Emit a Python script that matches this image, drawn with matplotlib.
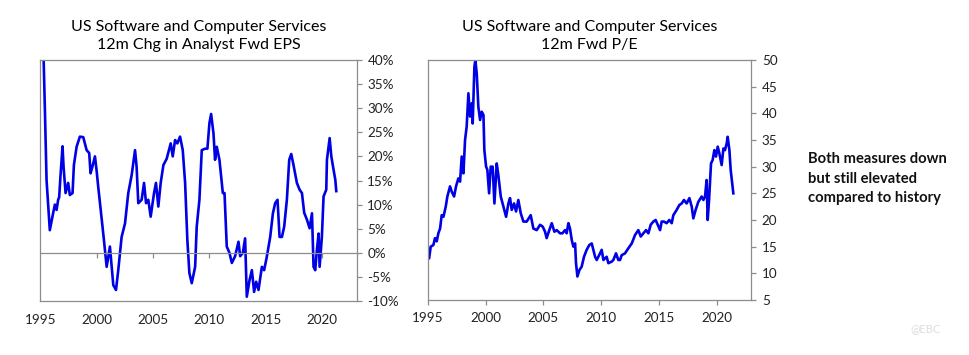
import numpy as np
import matplotlib.pyplot as plt

plt.rcParams['font.family'] = ['Lato', 'DejaVu Sans']

# 12m change in analyst forward EPS (%)
eps_year = [1995.23, 1995.38, 1995.53, 1995.82, 1996.12, 1996.27, 1996.42, 1996.56, 1996.65, 1996.77,
            1996.89, 1996.95, 1997.04, 1997.22, 1997.45, 1997.60, 1997.84, 1997.96, 1998.20, 1998.49,
            1998.79, 1999.09, 1999.32, 1999.44, 1999.62, 1999.83, 1999.98, 2000.12, 2000.42, 2000.63,
            2000.87, 2001.16, 2001.46, 2001.70, 2001.90, 2002.20, 2002.50, 2002.79, 2003.09, 2003.39,
            2003.53, 2003.68, 2003.98, 2004.19, 2004.37, 2004.57, 2004.78, 2005.08, 2005.25, 2005.46,
            2005.67, 2005.91, 2006.20, 2006.56, 2006.74, 2006.95, 2007.15, 2007.39, 2007.63, 2007.84,
            2008.04, 2008.22, 2008.43, 2008.73, 2008.87, 2009.11, 2009.32, 2009.61, 2009.82, 2010.00,
            2010.15, 2010.36, 2010.50, 2010.65, 2010.89, 2011.19, 2011.34, 2011.54, 2011.78, 2011.99,
            2012.28, 2012.58, 2012.73, 2012.97, 2013.17, 2013.32, 2013.56, 2013.77, 2013.97, 2014.15,
            2014.36, 2014.66, 2014.86, 2015.10, 2015.40, 2015.64, 2015.84, 2016.05, 2016.23, 2016.44,
            2016.64, 2016.88, 2017.09, 2017.27, 2017.47, 2017.77, 2018.01, 2018.22, 2018.42, 2018.66,
            2018.90, 2019.11, 2019.25, 2019.40, 2019.55, 2019.70, 2019.79, 2019.99, 2020.14, 2020.38,
            2020.44, 2020.68, 2020.83, 2021.03, 2021.18, 2021.27]
eps_chg = [44, 30, 15.1, 4.7, 8.3, 10, 8.9, 11, 11.5, 16,
           20, 22.1, 17.9, 12.4, 14.5, 12, 12.4, 18.2, 22, 24.1,
           24, 21.3, 20.7, 16.5, 18, 20, 17, 13.7, 7.2, 2.6,
           -2.9, 1.3, -6.7, -7.7, -3.6, 3.3, 6.1, 12.4, 16.1, 21.3,
           17.9, 10.3, 11, 14.5, 10.3, 11, 7.5, 12.4, 14.5, 9.6,
           14.5, 18.2, 19.5, 22.7, 20, 23.4, 22.7, 24.1, 21.3, 14.5,
           2.6, -4.2, -6.3, -2.9, 5.4, 11, 21.3, 21.6, 21.6, 26.9,
           28.8, 24.8, 19.3, 22, 19.3, 12.4, 12.4, 1.3, 0, -2.1,
           -0.7, 2.3, -0.7, 0, 3.0, -9.1, -5.7, -3.6, -8.1, -6,
           -7.7, -2.9, -3.6, -0.8, 3.3, 8.2, 10.3, 11, 3.3, 3.3,
           5.4, 11, 19.3, 20.5, 18.2, 14.5, 13.1, 12.4, 8.3, 6.9,
           5.1, 8.2, -2.9, -3.6, 0.7, 4.0, -2.9, 3.3, 11.7, 13.1,
           19.3, 23.8, 20, 17.2, 15.2, 12.8]

# 12m forward P/E
pe_year = [1995.00, 1995.12, 1995.26, 1995.49, 1995.63, 1995.78, 1995.92, 1996.07, 1996.21, 1996.36,
           1996.56, 1996.70, 1996.93, 1997.08, 1997.28, 1997.45, 1997.65, 1997.80, 1997.94, 1998.09,
           1998.23, 1998.37, 1998.52, 1998.66, 1998.81, 1998.89, 1999.04, 1999.12, 1999.24, 1999.38,
           1999.53, 1999.67, 1999.82, 1999.90, 2000.05, 2000.16, 2000.31, 2000.45, 2000.62, 2000.77,
           2000.97, 2001.11, 2001.32, 2001.55, 2001.78, 2001.98, 2002.12, 2002.27, 2002.47, 2002.64,
           2002.84, 2003.05, 2003.28, 2003.56, 2003.91, 2004.14, 2004.43, 2004.72, 2004.95, 2005.15,
           2005.29, 2005.52, 2005.73, 2005.96, 2006.16, 2006.45, 2006.65, 2006.88, 2007.02, 2007.17,
           2007.31, 2007.46, 2007.60, 2007.75, 2007.83, 2007.95, 2008.12, 2008.32, 2008.52, 2008.75,
           2008.98, 2009.19, 2009.33, 2009.48, 2009.62, 2009.91, 2010.05, 2010.20, 2010.48, 2010.63,
           2010.92, 2011.06, 2011.29, 2011.49, 2011.64, 2011.78, 2012.07, 2012.36, 2012.65, 2012.94,
           2013.22, 2013.43, 2013.66, 2013.89, 2014.09, 2014.29, 2014.52, 2014.72, 2014.90, 2015.10,
           2015.24, 2015.44, 2015.67, 2015.90, 2016.11, 2016.25, 2016.54, 2016.77, 2016.97, 2017.17,
           2017.40, 2017.64, 2017.84, 2017.98, 2018.18, 2018.41, 2018.70, 2018.85, 2018.99, 2019.13,
           2019.22, 2019.34, 2019.51, 2019.65, 2019.80, 2019.94, 2020.09, 2020.23, 2020.43, 2020.58,
           2020.72, 2020.87, 2020.95, 2021.10, 2021.21, 2021.44]
pe_val = [15.0, 12.8, 15.0, 15.3, 16.6, 16.0, 17.5, 18.4, 20.9, 20.6,
          22.5, 24.4, 26.3, 25.3, 24.4, 26.3, 27.8, 27.2, 31.9, 28.75,
          35.0, 37.5, 43.75, 39.4, 41.9, 38.1, 48.75, 50.0, 47.5, 41.25,
          38.75, 40.3, 39.7, 33.1, 30.0, 29.4, 25.0, 30.0, 30.0, 23.1,
          30.6, 28.4, 24.4, 22.5, 20.6, 23.1, 24.1, 21.9, 23.1, 21.6,
          23.75, 21.25, 19.7, 19.7, 20.9, 18.4, 18.1, 19.1, 18.75, 17.8,
          16.6, 18.1, 19.4, 17.8, 18.1, 17.5, 17.5, 18.1, 17.5, 19.4,
          18.4, 16.25, 15.0, 15.6, 11.9, 9.4, 10.6, 11.25, 13.1, 14.4,
          15.3, 15.6, 14.4, 13.1, 12.5, 13.75, 14.4, 12.5, 13.1, 11.9,
          12.2, 12.5, 13.75, 12.5, 12.5, 13.4, 13.75, 14.7, 15.6, 17.2,
          18.1, 16.9, 17.5, 18.1, 17.5, 19.1, 19.7, 20.0, 19.1, 18.1,
          19.7, 19.7, 19.4, 20.0, 19.4, 20.9, 21.9, 22.8, 23.1, 23.75,
          23.1, 24.1, 22.5, 20.3, 21.9, 23.4, 24.4, 23.75, 24.4, 27.5,
          20.0, 23.75, 30.6, 31.25, 33.1, 31.9, 33.75, 32.5, 30.3, 33.4,
          33.1, 34.4, 35.6, 33.1, 29.4, 25.0]

year_ticks = [1995, 2000, 2005, 2010, 2015, 2020]
eps_ticks = list(range(-10, 45, 5))
pe_ticks = list(range(5, 55, 5))

line_col = '#0000e6'
grey = '#8c8c8c'

fig = plt.figure(figsize=(9.69, 3.55), dpi=100)
ax1 = fig.add_axes([0.0413, 0.152, 0.327, 0.679])
ax2 = fig.add_axes([0.4414, 0.155, 0.334, 0.676])

# left chart
ax1.plot(eps_year, eps_chg, color=line_col, lw=1.9)
ax1.axhline(0, color=grey, lw=0.9)
ax1.set_xlim(1994.95, 2023.1)
ax1.set_ylim(-10, 40)
ax1.set_yticks(eps_ticks)
ax1.set_yticklabels([f'{t}%' for t in eps_ticks])
ax1.set_xticks(year_ticks)
ax1.tick_params(axis='x', length=0, pad=9)
sec = ax1.secondary_xaxis(0.2)
sec.set_xticks(year_ticks[1:])
sec.tick_params(axis='x', labelbottom=False, length=3.5, color=grey, width=0.9)
sec.spines['bottom'].set_visible(False)
ax1.set_title('US Software and Computer Services\n12m Chg in Analyst Fwd EPS',
              fontsize=11.5, linespacing=1.35, pad=8)

# right chart
ax2.plot(pe_year, pe_val, color=line_col, lw=1.9)
ax2.set_xlim(1995, 2023)
ax2.set_ylim(5, 50)
ax2.set_yticks(pe_ticks)
ax2.set_xticks(year_ticks)
ax2.tick_params(axis='x', length=3.5, pad=5)
ax2.set_title('US Software and Computer Services\n12m Fwd P/E',
              fontsize=11.5, linespacing=1.35, pad=8)

for ax in (ax1, ax2):
    ax.yaxis.tick_right()
    ax.tick_params(axis='y', length=3.5, pad=4)
    ax.tick_params(labelsize=9.7, color=grey, labelcolor='#222222', width=0.9)
    for s in ax.spines.values():
        s.set_color(grey)
        s.set_linewidth(0.9)

fig.text(0.834, 0.497, 'Both measures down\nbut still elevated\ncompared to history',
         fontsize=10.6, fontweight='bold', linespacing=1.5, va='center', ha='left', color='#111111')
fig.text(0.955, 0.075, '@EBC', fontsize=8, color='#dddddd', ha='center', va='center')

fig.savefig('out.png', dpi=100)
